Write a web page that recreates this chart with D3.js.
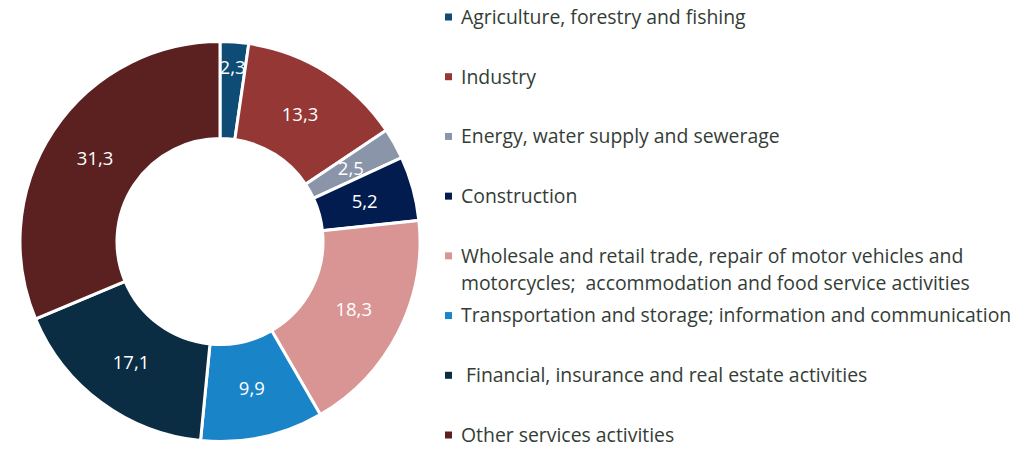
<!DOCTYPE html>
<html>
<head>
<meta charset="utf-8">
<script src="https://cdnjs.cloudflare.com/ajax/libs/d3/7.8.5/d3.min.js"></script>
<style>
  body { margin: 0; background: #fff; }
  svg { display: block; font-family: "Open Sans", Lato, sans-serif; }
</style>
</head>
<body>
<div id="chart"></div>
<script>
// Data
var sectors = [
    'Agriculture, forestry and fishing',
    'Industry',
    'Energy, water supply and sewerage',
    'Construction',
    'Wholesale and retail trade, repair of motor vehicles and|motorcycles;  accommodation and food service activities',
    'Transportation and storage; information and communication',
    ' Financial, insurance and real estate activities',
    'Other services activities'
];
var shares = [2.3, 13.3, 2.5, 5.2, 18.3, 9.9, 17.1, 31.3];
var sectorColors = ['#0f4c75', '#943735', '#8a95aa', '#031c50', '#d99594', '#1a84c9', '#0a2d44', '#5b2121'];

var width = 1035, height = 449;
var cx = 220, cy = 241.5, outerR = 200, innerR = 103;

var svg = d3.select('#chart').append('svg')
    .attr('width', width)
    .attr('height', height);

var data = sectors.map(function(s, i) { return {name: s, value: shares[i], color: sectorColors[i]}; });

var pie = d3.pie().sort(null).value(function(d) { return d.value; });
var arc = d3.arc().innerRadius(innerR).outerRadius(outerR);

var donutG = svg.append('g').attr('transform', `translate(${cx},${cy})`);

var arcs = pie(data);

donutG.selectAll('path.slice').data(arcs).enter().append('path')
    .attr('class', 'slice')
    .attr('d', arc)
    .attr('fill', function(d) { return d.data.color; })
    .attr('stroke', '#fff')
    .attr('stroke-width', 3)
    .attr('stroke-linejoin', 'miter');

// labels: small slices get pushed outward like Excel does
donutG.selectAll('text.val').data(arcs).enter().append('text')
    .attr('class', 'val')
    .attr('transform', function(d) {
        var r = d.data.value < 2.4 ? 174 : 150;
        var a = (d.startAngle + d.endAngle) / 2;
        return `translate(${r * Math.sin(a)},${-r * Math.cos(a)})`;
    })
    .attr('text-anchor', 'middle')
    .attr('dy', '0.35em')
    .attr('fill', '#fff')
    .style('font-size', '18.5px')
    .text(function(d) { return d3.format('.1f')(d.data.value).replace('.', ','); });

// Legend
var legendY = d3.scalePoint().domain(d3.range(sectors.length)).range([17, 435]);

var legend = svg.append('g').attr('class', 'legend');
var items = legend.selectAll('g.item').data(data).enter().append('g')
    .attr('class', 'item')
    .attr('transform', function(d, i) { return `translate(445,${legendY(i)})`; });

items.append('rect')
    .attr('x', 0).attr('y', -3.5)
    .attr('width', 7).attr('height', 7)
    .attr('fill', function(d) { return d.color; });

items.each(function(d) {
    var lines = d.name.split('|');
    var t = d3.select(this).append('text')
        .attr('x', 16)
        .attr('fill', '#333d35')
        .style('font-size', '19.4px')
        .style('white-space', 'pre');
    lines.forEach(function(l, k) {
        t.append('tspan').attr('x', 16).attr('y', k * 27).attr('dy', '0.35em').text(l);
    });
});
</script>
</body>
</html>
